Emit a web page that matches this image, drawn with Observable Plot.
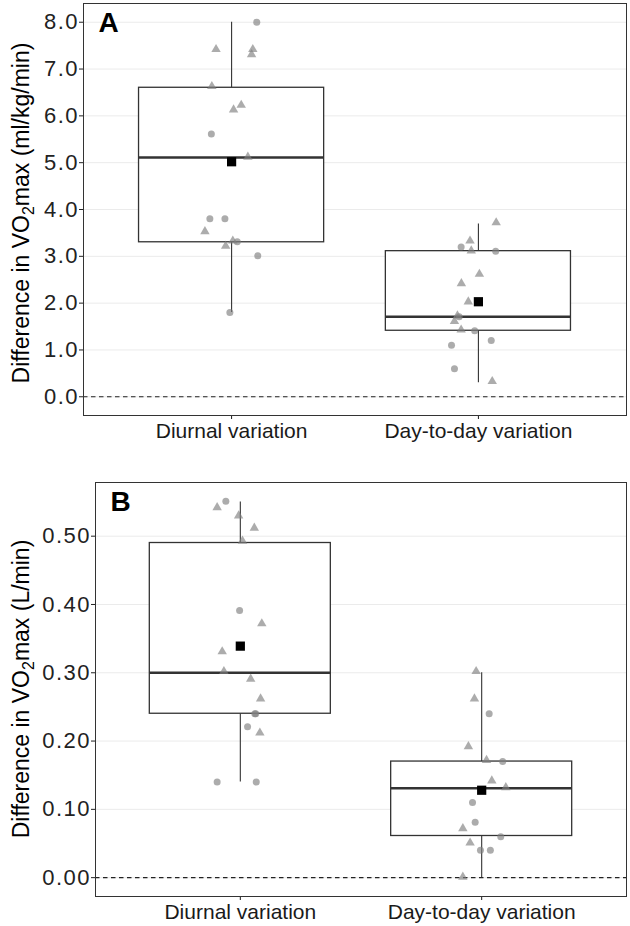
<!DOCTYPE html>
<html><head><meta charset="utf-8">
<script src="https://cdn.jsdelivr.net/npm/d3@7"></script>
<script src="https://cdn.jsdelivr.net/npm/@observablehq/plot@0.6"></script>
<style>
body{margin:0;background:#fff;font-family:"Liberation Sans",Arial,sans-serif;}
#chart svg{display:block}
</style></head><body><div id="chart"></div>
<script>
const categories = ["Diurnal variation", "Day-to-day variation"];

// Panel A: VO2max difference (ml/kg/min)
const aDiurnalValues = [8.00, 7.42, 7.42, 7.31, 6.63, 6.23, 6.13, 5.61, 5.12, 3.80, 3.80, 3.53, 3.33, 3.22, 3.31, 3.01, 1.80];
const aDiurnalShapes = ["circle","triangle","triangle","triangle","triangle","triangle","triangle","circle","triangle","circle","circle","triangle","triangle","triangle","circle","circle","circle"];
const aDiurnalJitter = [0.102, -0.063, 0.086, 0.081, -0.080, 0.039, 0.008, -0.082, 0.066, -0.088, -0.027, -0.108, 0.005, -0.024, 0.023, 0.106, -0.007];
const aDayValues = [3.72, 3.33, 3.20, 3.12, 3.11, 2.62, 2.42, 2.03, 1.71, 1.73, 1.61, 1.43, 1.41, 1.20, 1.10, 0.60, 0.33];
const aDayShapes = ["triangle","triangle","circle","triangle","circle","triangle","triangle","triangle","circle","triangle","triangle","triangle","circle","circle","circle","circle","triangle"];
const aDayJitter = [0.072, -0.034, -0.070, -0.029, 0.070, 0.004, -0.069, -0.041, -0.078, -0.085, -0.097, -0.070, -0.015, 0.052, -0.109, -0.097, 0.056];
const aLow = [1.80, 0.30];
const aQ1 = [3.30, 1.41];
const aMedian = [5.11, 1.71];
const aQ3 = [6.60, 3.11];
const aHigh = [8.00, 3.69];
const aMean = [5.02, 2.03];
const aTicks = [0, 1, 2, 3, 4, 5, 6, 7, 8];

// Panel B: VO2max difference (L/min)
const bDiurnalValues = [0.551, 0.542, 0.530, 0.512, 0.493, 0.391, 0.372, 0.331, 0.302, 0.291, 0.262, 0.240, 0.240, 0.221, 0.212, 0.140, 0.140];
const bDiurnalShapes = ["circle","triangle","triangle","triangle","triangle","circle","triangle","triangle","triangle","triangle","triangle","circle","circle","circle","triangle","circle","circle"];
const bDiurnalJitter = [-0.060, -0.096, -0.007, 0.058, 0.009, -0.003, 0.089, -0.075, -0.068, 0.043, 0.084, 0.064, 0.060, 0.030, 0.081, -0.096, 0.066];
const bDayValues = [0.302, 0.262, 0.240, 0.192, 0.172, 0.170, 0.142, 0.132, 0.110, 0.081, 0.072, 0.060, 0.051, 0.040, 0.040, 0.001];
const bDayShapes = ["triangle","triangle","circle","triangle","triangle","circle","triangle","triangle","circle","circle","triangle","circle","triangle","circle","circle","triangle"];
const bDayJitter = [-0.023, -0.030, 0.031, -0.055, 0.020, 0.087, 0.042, 0.100, -0.038, -0.027, -0.078, 0.079, -0.048, -0.005, 0.036, -0.078];
const bLow = [0.14, 0.00];
const bQ1 = [0.24, 0.061];
const bMedian = [0.30, 0.131];
const bQ3 = [0.49, 0.17];
const bHigh = [0.55, 0.30];
const bMean = [0.339, 0.128];
const bTicks = [0, 0.1, 0.2, 0.3, 0.4, 0.5];

function pointRows(values, shapes, jitter, cat) {
  return values.map((v, i) => ({x: cat + jitter[i], y: v, shape: shapes[i]}));
}
function boxRows(lo, q1, med, q3, hi, mean) {
  return categories.map((c, i) => ({x: i + 1, lo: lo[i], q1: q1[i], med: med[i], q3: q3[i], hi: hi[i], mean: mean[i]}));
}

const FONT = "'Liberation Sans', Arial, Helvetica, sans-serif";

function panel({points, boxes, ticks, fmt, domain, letter, height, mt, mb, ml, unit, titleShift}) {
  const hw = 0.375;
  const svg = Plot.plot({
    width: 630, height,
    marginTop: mt, marginBottom: mb, marginLeft: ml, marginRight: 4,
    style: {fontFamily: FONT, background: "white", color: "#222"},
    x: {domain: [0.4, 2.6]},
    y: {domain},
    marks: [
      Plot.gridY(ticks, {stroke: "#ebebeb", strokeOpacity: 1, strokeWidth: 1}),
      Plot.ruleY([0], {stroke: "#222", strokeDasharray: "4.5,3.5", strokeWidth: 1.1}),
      Plot.ruleX(boxes, {x: "x", y1: "q3", y2: "hi", stroke: "#333", strokeWidth: 1.1}),
      Plot.ruleX(boxes, {x: "x", y1: "lo", y2: "q1", stroke: "#333", strokeWidth: 1.1}),
      Plot.rect(boxes, {x1: d => d.x - hw, x2: d => d.x + hw, y1: "q1", y2: "q3", fill: "white", stroke: "#333", strokeWidth: 1.3}),
      Plot.ruleY(boxes, {y: "med", x1: d => d.x - hw, x2: d => d.x + hw, stroke: "#333", strokeWidth: 2.6}),
      Plot.dot(points, {x: "x", y: "y", symbol: "shape", r: 3.5, fill: "#808080", fillOpacity: 0.65, stroke: "none"}),
      Plot.dot(boxes, {x: "x", y: "mean", symbol: "square", r: 5.2, fill: "black", stroke: "none"}),
      Plot.axisY(ticks, {tickFormat: fmt, fontSize: 22, tickSize: 4, tickPadding: 0.5, label: null, color: "#222"}),
      Plot.axisX([1, 2], {tickFormat: i => categories[i - 1], fontSize: 21, tickSize: 4, tickPadding: 4, label: null, color: "#1a1a1a"}),
      Plot.frame({stroke: "#333", strokeWidth: 1}),
      Plot.text([letter], {text: d => d, frameAnchor: "top-left", dx: 15, dy: 9, fontSize: 28, fontWeight: "bold", textAnchor: "start", lineAnchor: "top", fill: "black"})
    ]
  });
  d3.select(svg).selectAll("g[aria-label='y-axis tick label'] text").style("letter-spacing", "1.5px");
  const cy = (mt + (height - mb)) / 2 + titleShift;
  const t = d3.select(svg).append("text")
    .attr("transform", `translate(29,${cy}) rotate(-90)`)
    .attr("text-anchor", "middle")
    .attr("fill", "black")
    .style("font-size", "23px")
    .style("font-family", FONT);
  t.append("tspan").text("Difference in VO");
  t.append("tspan").attr("dy", 5).style("font-size", "16px").text("2");
  t.append("tspan").attr("dy", -5).text("max " + unit);
  return svg;
}

const root = document.getElementById("chart");
root.appendChild(panel({
  points: [...pointRows(aDiurnalValues, aDiurnalShapes, aDiurnalJitter, 1), ...pointRows(aDayValues, aDayShapes, aDayJitter, 2)],
  boxes: boxRows(aLow, aQ1, aMedian, aQ3, aHigh, aMean),
  ticks: aTicks, fmt: d3.format(".1f"), domain: [-0.4, 8.4], letter: "A",
  height: 460, mt: 3, mb: 45, ml: 83, unit: "(ml/kg/min)", titleShift: 4
}));
root.appendChild(panel({
  points: [...pointRows(bDiurnalValues, bDiurnalShapes, bDiurnalJitter, 1), ...pointRows(bDayValues, bDayShapes, bDayJitter, 2)],
  boxes: boxRows(bLow, bQ1, bMedian, bQ3, bHigh, bMean),
  ticks: bTicks, fmt: d3.format(".2f"), domain: [-0.0276, 0.5786], letter: "B",
  height: 466, mt: 22, mb: 30, ml: 95, unit: "(L/min)", titleShift: 0
}));
</script></body></html>
